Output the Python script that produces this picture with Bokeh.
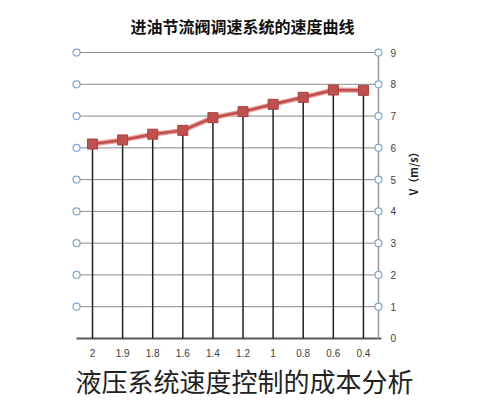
import math
from bokeh.plotting import figure
from bokeh.models import Range1d, FixedTicker, Title
from bokeh.embed import file_html
from bokeh.resources import INLINE

# data (mirrored layout as in reference: largest flow value on the left)
categories = ["2", "1.9", "1.8", "1.6", "1.4", "1.2", "1", "0.8", "0.6", "0.4"]
speed = [6.12, 6.25, 6.43, 6.55, 6.95, 7.14, 7.37, 7.59, 7.82, 7.81]
y_ticks = [0, 1, 2, 3, 4, 5, 6, 7, 8, 9]
title_text = "进油节流阀调速系统的速度曲线"
caption_text = "液压系统速度控制的成本分析"
y_label = "V（m/s）"

xs = list(range(len(categories)))
x_left = -0.53
x_right = 9.5

p = figure(width=469, height=398, output_backend="svg", toolbar_location=None,
           x_range=Range1d(-0.731, 9.70), y_range=Range1d(-0.19, 9.19),
           y_axis_location="right",
           min_border_left=70, min_border_right=85, min_border_top=46, min_border_bottom=54)
p.outline_line_color = None
p.xgrid.visible = False
p.ygrid.visible = False
p.title.text = ""

spacer = Title(text=" ", text_font_size="7px", standoff=0)
main_title = Title(text=title_text, align="left", offset=60, vertical_align="bottom",
                   text_font="Noto Sans CJK SC", text_font_size="16px",
                   text_font_style="bold", text_color="#111111", standoff=0)
p.add_layout(spacer, "above")
p.add_layout(main_title, "above")

xa = p.xaxis[0]
xa.ticker = FixedTicker(ticks=xs)
xa.major_label_overrides = {i: c for i, c in enumerate(categories)}
ya = p.yaxis[0]
ya.ticker = FixedTicker(ticks=y_ticks)
ya.axis_label = y_label
ya.axis_label_orientation = math.pi / 2
ya.axis_label_text_font = "Noto Sans CJK SC"
ya.axis_label_text_font_size = "11px"
ya.axis_label_text_font_style = "bold"
ya.axis_label_text_color = "#222222"
ya.axis_label_standoff = 14
for ax in (xa, ya):
    ax.axis_line_color = None
    ax.major_tick_line_color = None
    ax.minor_tick_line_color = None
    ax.major_label_text_font = "Liberation Sans"
    ax.major_label_text_font_size = "10px"
    ax.major_label_text_color = "#404040"
xa.major_label_standoff = -2
ya.major_label_standoff = 0

# horizontal gridlines
grid_vals = y_ticks[1:]
p.segment(x0=[x_left] * len(grid_vals), x1=[x_right] * len(grid_vals),
          y0=grid_vals, y1=grid_vals, line_color="#8a8a8a", line_width=1)
# bottom axis line
p.segment(x0=[x_left], x1=[x_right + 0.1], y0=[0], y1=[0], line_color="#5a5a5a", line_width=2)
# right axis line
p.segment(x0=[x_right], x1=[x_right], y0=[0], y1=[9.05], line_color="#9a9a9a", line_width=1.5)
# drop lines
p.segment(x0=xs, x1=xs, y0=speed, y1=[0] * len(xs), line_color="#222222", line_width=1.5)
# end markers on gridlines
p.scatter(x=[x_left] * len(grid_vals), y=grid_vals, size=7, marker="circle",
          fill_color="white", line_color="#7fa6cf", line_width=1.2)
p.scatter(x=[x_right] * len(grid_vals), y=grid_vals, size=7, marker="circle",
          fill_color="white", line_color="#7fa6cf", line_width=1.2)
# series
p.line(xs, speed, line_color="#e8a09e", line_width=5)
p.line(xs, speed, line_color="#c0504d", line_width=2.5)
p.scatter(xs, speed, marker="square", size=10, fill_color="#c0504d", line_color="#a8403d")

cap = Title(text=caption_text, align="left", offset=5, text_font="Noto Sans CJK SC",
            text_font_size="26px", text_font_style="normal", text_color="#222222",
            standoff=0)
p.add_layout(cap, "below")

open("out.html", "w").write(file_html(p, INLINE))
